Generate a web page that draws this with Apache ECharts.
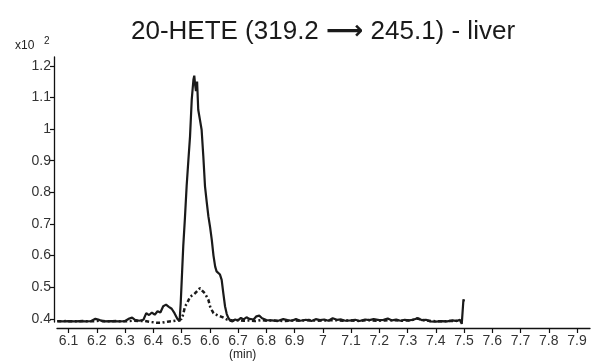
<!DOCTYPE html>
<html>
<head>
<meta charset="utf-8">
<script src="https://cdn.jsdelivr.net/npm/echarts@6/dist/echarts.min.js"></script>
<style>
html,body{margin:0;padding:0;background:#fff;}
#c{width:595px;height:362px;}
</style>
</head>
<body>
<div id="c"></div>
<script>
// ---- data ----
const titleLeft = '20-HETE (319.2 ';
const titleArrow = '\u27F6';
const titleRight = ' 245.1) - liver';
const xTicks = [6.1, 6.2, 6.3, 6.4, 6.5, 6.6, 6.7, 6.8, 6.9, 7, 7.1, 7.2, 7.3, 7.4, 7.5, 7.6, 7.7, 7.8, 7.9];
const yTicks = [0.4, 0.5, 0.6, 0.7, 0.8, 0.9, 1, 1.1, 1.2];

const solidTime = [6.06, 6.08, 6.10, 6.12, 6.14, 6.16, 6.18, 6.195, 6.205, 6.22, 6.25, 6.28, 6.30, 6.315, 6.325, 6.335, 6.35, 6.365, 6.375, 6.385, 6.395, 6.405, 6.415, 6.425, 6.435, 6.445, 6.455, 6.465, 6.475, 6.485, 6.493, 6.497, 6.502, 6.506, 6.512, 6.518, 6.524, 6.530, 6.536, 6.542, 6.545, 6.548, 6.551, 6.555, 6.559, 6.565, 6.571, 6.577, 6.583, 6.589, 6.595, 6.601, 6.607, 6.613, 6.619, 6.624, 6.630, 6.636, 6.642, 6.648, 6.654, 6.660, 6.666, 6.672, 6.68, 6.69, 6.70, 6.71, 6.72, 6.73, 6.74, 6.755, 6.765, 6.775, 6.785, 6.80, 6.82, 6.84, 6.86, 6.875, 6.89, 6.905, 6.92, 6.94, 6.96, 6.975, 6.99, 7.005, 7.02, 7.035, 7.05, 7.065, 7.08, 7.10, 7.115, 7.13, 7.15, 7.165, 7.18, 7.20, 7.215, 7.23, 7.245, 7.26, 7.275, 7.29, 7.305, 7.32, 7.335, 7.35, 7.365, 7.38, 7.40, 7.42, 7.44, 7.46, 7.475, 7.485, 7.492, 7.495, 7.498, 7.500];
const solidValue = [0.393, 0.392, 0.393, 0.392, 0.393, 0.392, 0.393, 0.400, 0.398, 0.392, 0.393, 0.392, 0.393, 0.401, 0.404, 0.397, 0.394, 0.397, 0.418, 0.412, 0.420, 0.413, 0.424, 0.420, 0.440, 0.445, 0.438, 0.432, 0.418, 0.400, 0.392, 0.450, 0.550, 0.630, 0.720, 0.820, 0.900, 0.977, 1.093, 1.156, 1.169, 1.140, 1.120, 1.150, 1.061, 1.030, 0.998, 0.914, 0.819, 0.770, 0.724, 0.690, 0.650, 0.600, 0.565, 0.550, 0.545, 0.540, 0.523, 0.480, 0.439, 0.415, 0.402, 0.394, 0.392, 0.398, 0.395, 0.403, 0.398, 0.405, 0.400, 0.398, 0.408, 0.410, 0.402, 0.396, 0.395, 0.393, 0.399, 0.396, 0.394, 0.399, 0.394, 0.397, 0.393, 0.399, 0.396, 0.398, 0.394, 0.402, 0.397, 0.398, 0.394, 0.395, 0.397, 0.393, 0.398, 0.396, 0.399, 0.396, 0.397, 0.401, 0.395, 0.398, 0.394, 0.397, 0.395, 0.397, 0.402, 0.396, 0.397, 0.392, 0.391, 0.393, 0.392, 0.395, 0.393, 0.397, 0.384, 0.390, 0.462, 0.455];

const dashTime = [6.06, 6.09, 6.12, 6.15, 6.18, 6.21, 6.24, 6.27, 6.30, 6.33, 6.35, 6.37, 6.39, 6.41, 6.43, 6.45, 6.47, 6.49, 6.50, 6.506, 6.512, 6.52, 6.53, 6.54, 6.548, 6.555, 6.565, 6.572, 6.577, 6.583, 6.589, 6.595, 6.601, 6.607, 6.613, 6.62, 6.63, 6.64, 6.65, 6.66, 6.68, 6.70, 6.72, 6.74, 6.76, 6.78, 6.80, 6.83, 6.86, 6.89, 6.92, 6.95, 6.98, 7.01, 7.04, 7.07, 7.10, 7.13, 7.16, 7.19, 7.22, 7.25, 7.28, 7.31, 7.335, 7.36, 7.39, 7.42, 7.45, 7.48, 7.495];
const dashValue = [0.392, 0.393, 0.392, 0.393, 0.392, 0.394, 0.392, 0.393, 0.392, 0.394, 0.393, 0.393, 0.390, 0.388, 0.388, 0.391, 0.393, 0.396, 0.400, 0.415, 0.439, 0.450, 0.470, 0.475, 0.481, 0.478, 0.497, 0.490, 0.494, 0.480, 0.478, 0.460, 0.439, 0.428, 0.418, 0.413, 0.410, 0.407, 0.403, 0.398, 0.395, 0.396, 0.394, 0.395, 0.393, 0.396, 0.394, 0.395, 0.393, 0.395, 0.394, 0.396, 0.394, 0.395, 0.396, 0.394, 0.395, 0.393, 0.396, 0.394, 0.395, 0.396, 0.394, 0.395, 0.401, 0.395, 0.393, 0.392, 0.393, 0.394, 0.392];

const solidData = solidTime.map((t, i) => [t, solidValue[i]]);
const dashData = dashTime.map((t, i) => [t, dashValue[i]]);

const font = 'Liberation Sans, Arial, Helvetica, sans-serif';
const chart = echarts.init(document.getElementById('c'), null, {renderer: 'canvas'});
chart.setOption({
  animation: false,
  backgroundColor: '#fff',
  title: {
    text: '{t|' + titleLeft + '}{a|' + titleArrow + '}{t|' + titleRight + '}',
    left: 318, top: 14, textAlign: 'center',
    textStyle: {
      fontWeight: 'normal',
      rich: {
        t: {fontFamily: font, fontSize: 26, fontWeight: 'normal', color: '#1a1a1a'},
        a: {fontFamily: 'DejaVu Sans', fontSize: 26, fontWeight: 'bold', color: '#1a1a1a'}
      }
    }
  },
  graphic: [
    {type: 'text', left: 15, top: 40, style: {text: 'x10', font: '12px ' + font, fill: '#222'}},
    {type: 'text', left: 44, top: 36, style: {text: '2', font: '10px ' + font, fill: '#222'}},
    {type: 'text', left: 229, top: 349, style: {text: '(min)', font: '12px ' + font, fill: '#222'}}
  ],
  grid: {left: 57, right: 5, top: 57, bottom: 40},
  xAxis: {
    type: 'value', min: 6.059, max: 7.946, offset: 6,
    axisLine: {show: true, lineStyle: {color: '#111', width: 1.3}},
    axisTick: {show: true, length: 5, inside: false, customValues: xTicks, lineStyle: {color: '#111', width: 1.2}},
    axisLabel: {customValues: xTicks, margin: 6, fontFamily: font, fontSize: 14, color: '#333'},
    splitLine: {show: false}
  },
  yAxis: {
    type: 'value', min: 0.39, max: 1.228, offset: 3,
    axisLine: {show: true, lineStyle: {color: '#111', width: 1.3}},
    axisTick: {show: true, length: 4, customValues: yTicks, lineStyle: {color: '#111', width: 1.2}},
    axisLabel: {customValues: yTicks, margin: 3, fontFamily: font, fontSize: 14, color: '#333'},
    splitLine: {show: false}
  },
  series: [
    {type: 'line', data: dashData, showSymbol: false, clip: false,
     lineStyle: {color: '#1a1a1a', width: 2.5, type: [4, 2.5, 2, 2.5]}},
    {type: 'line', data: solidData, showSymbol: false, clip: false,
     lineStyle: {color: '#1a1a1a', width: 2.2}}
  ]
});
</script>
</body>
</html>
